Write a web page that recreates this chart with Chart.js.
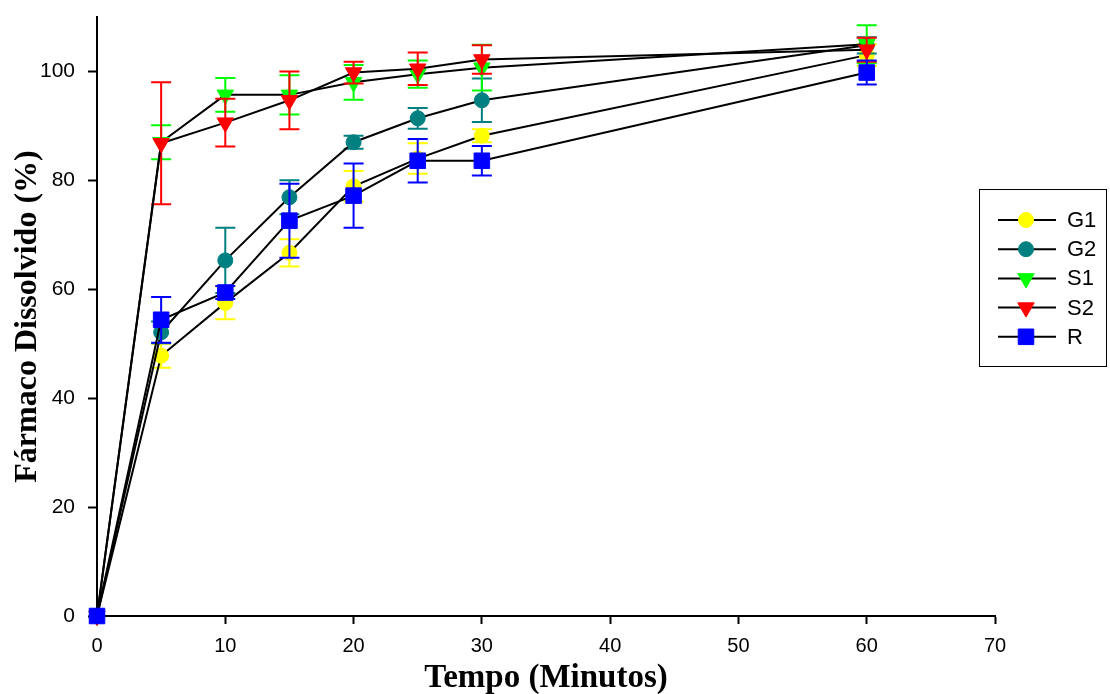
<!DOCTYPE html>
<html>
<head>
<meta charset="utf-8">
<script src="https://cdn.jsdelivr.net/npm/chart.js@4/dist/chart.umd.min.js"></script>
<style>
  body { margin: 0; background: #fff; }
  canvas { display: block; }
</style>
</head>
<body>
<canvas id="dissChart" width="1110" height="694"></canvas>
<script>
// tempos de coleta (min)
const tempos = [0, 5, 10, 15, 20, 25, 30, 60];

// médias (%) e desvios
const g1 = [0, 47.8, 57.5, 66.7, 78.9, 84.0, 88.2, 103.0];
const g1Dp = [0, 2.2, 3.0, 2.5, 2.8, 2.8, 1.2, 2.0];
const g2 = [0, 52.1, 65.3, 76.9, 87.0, 91.4, 94.7, 104.8];
const g2Dp = [0, 2.0, 6.0, 3.1, 1.2, 1.9, 4.0, 1.5];
const s1 = [0, 87.0, 95.7, 95.7, 98.0, 99.5, 100.7, 105.0];
const s1Dp = [0, 3.1, 3.1, 3.6, 3.2, 2.5, 4.2, 3.5];
const s2 = [0, 86.8, 90.6, 94.7, 99.8, 100.5, 102.2, 104.0];
const s2Dp = [0, 11.2, 4.4, 5.3, 2.0, 3.0, 2.6, 2.2];
const r = [0, 54.4, 59.4, 72.6, 77.2, 83.6, 83.6, 99.8];
const rDp = [0, 4.2, 1.2, 6.8, 5.9, 4.0, 2.7, 2.2];

const nomes = ['G1', 'G2', 'S1', 'S2', 'R'];
const yTicks = [0, 20, 40, 60, 80, 100];
const xTicks = [0, 10, 20, 30, 40, 50, 60, 70];

const estilos = [
  { cor: '#ffff00', ponto: 'circle', raio: 7.5, rot: 0 },
  { cor: '#008080', ponto: 'circle', raio: 7.5, rot: 0 },
  { cor: '#00ff00', ponto: 'triangle', raio: 9.5, rot: 180 },
  { cor: '#ff0000', ponto: 'triangle', raio: 9.5, rot: 180 },
  { cor: '#0000ff', ponto: 'rect', raio: 11, rot: 0 }
];
const medias = [g1, g2, s1, s2, r];
const desvios = [g1Dp, g2Dp, s1Dp, s2Dp, rDp];

const datasets = medias.map((serie, i) => ({
  label: nomes[i],
  data: serie.map((v, k) => ({ x: tempos[k], y: v })),
  desvio: desvios[i],
  borderColor: '#000',
  borderWidth: 2,
  pointStyle: estilos[i].ponto,
  pointRotation: estilos[i].rot,
  pointRadius: estilos[i].raio,
  pointBackgroundColor: estilos[i].cor,
  pointBorderColor: estilos[i].cor,
  pointBorderWidth: 1,
  order: medias.length - i,
  clip: false
}));

// barras de erro desenhadas antes de cada série
const barrasErro = {
  id: 'barrasErro',
  beforeDatasetDraw(chart, args) {
    const ds = chart.data.datasets[args.index];
    const xs = chart.scales.x, ys = chart.scales.y;
    const ctx = chart.ctx;
    ctx.save();
    ctx.strokeStyle = estilos[args.index].cor;
    ctx.lineWidth = 2;
    ds.data.forEach((p, k) => {
      const sd = ds.desvio[k];
      if (!sd) return;
      const x = xs.getPixelForValue(p.x);
      const y1 = ys.getPixelForValue(p.y + sd);
      const y2 = ys.getPixelForValue(p.y - sd);
      ctx.beginPath();
      ctx.moveTo(x, y1); ctx.lineTo(x, y2);
      ctx.moveTo(x - 10, y1); ctx.lineTo(x + 10, y1);
      ctx.moveTo(x - 10, y2); ctx.lineTo(x + 10, y2);
      ctx.stroke();
    });
    ctx.restore();
  }
};

// legenda com moldura à direita
const legenda = {
  id: 'legenda',
  afterDraw(chart) {
    const ctx = chart.ctx;
    ctx.save();
    ctx.strokeStyle = '#000';
    ctx.lineWidth = 1;
    ctx.strokeRect(979.5, 189.5, 127, 177);
    ctx.font = '22px "Liberation Sans", Arial, sans-serif';
    ctx.textBaseline = 'middle';
    ctx.fillStyle = '#000';
    nomes.forEach((n, i) => {
      const y = 220 + i * 29.2;
      ctx.beginPath();
      ctx.lineWidth = 2;
      ctx.moveTo(998, y); ctx.lineTo(1056, y);
      ctx.stroke();
      const e = estilos[i];
      ctx.fillStyle = e.cor;
      ctx.strokeStyle = e.cor;
      ctx.lineWidth = 1;
      Chart.helpers.drawPoint(ctx, { pointStyle: e.ponto, radius: e.raio, rotation: e.rot, borderWidth: 1 }, 1026, y);
      ctx.fillStyle = '#000';
      ctx.strokeStyle = '#000';
      ctx.fillText(n, 1067, y + 1);
    });
    ctx.restore();
  }
};

new Chart(document.getElementById('dissChart'), {
  type: 'line',
  data: { datasets },
  plugins: [barrasErro, legenda],
  options: {
    responsive: false,
    animation: false,
    layout: { padding: { left: 0, right: 115, top: 17, bottom: 0 } },
    plugins: { legend: { display: false }, tooltip: { enabled: false } },
    scales: {
      x: {
        type: 'linear',
        min: 0, max: 70,
        afterBuildTicks: s => { s.ticks = xTicks.map(v => ({ value: v })); },
        afterFit: s => { s.height = 78; s.paddingLeft = 0; s.paddingRight = 0; },
        ticks: { color: '#000', padding: 10, font: { family: '"Liberation Sans Narrow", "Liberation Sans", Arial', size: 20 } },
        grid: { drawOnChartArea: false, tickLength: 8, tickColor: '#000', tickWidth: 2 },
        border: { color: '#000', width: 2 },
        title: {
          display: true, text: 'Tempo (Minutos)', color: '#000',
          font: { family: '"Liberation Serif", "Times New Roman", serif', size: 33, weight: 'bold', lineHeight: 1 },
          padding: { top: 0, bottom: -1 }
        }
      },
      y: {
        min: 0, max: 110,
        afterBuildTicks: s => { s.ticks = yTicks.map(v => ({ value: v })); },
        afterFit: s => { s.width = 97; s.paddingTop = 0; s.paddingBottom = 0; },
        ticks: { color: '#000', padding: 13, font: { family: '"Liberation Sans", Arial', size: 21 } },
        grid: { drawOnChartArea: false, tickLength: 9, tickColor: '#000', tickWidth: 2 },
        border: { color: '#000', width: 2 },
        title: {
          display: true, text: 'Fármaco Dissolvido (%)', color: '#000',
          font: { family: '"Liberation Serif", "Times New Roman", serif', size: 32, weight: 'bold', lineHeight: 1 },
          padding: { top: 12, bottom: 0 }
        }
      }
    }
  }
});
</script>
</body>
</html>
